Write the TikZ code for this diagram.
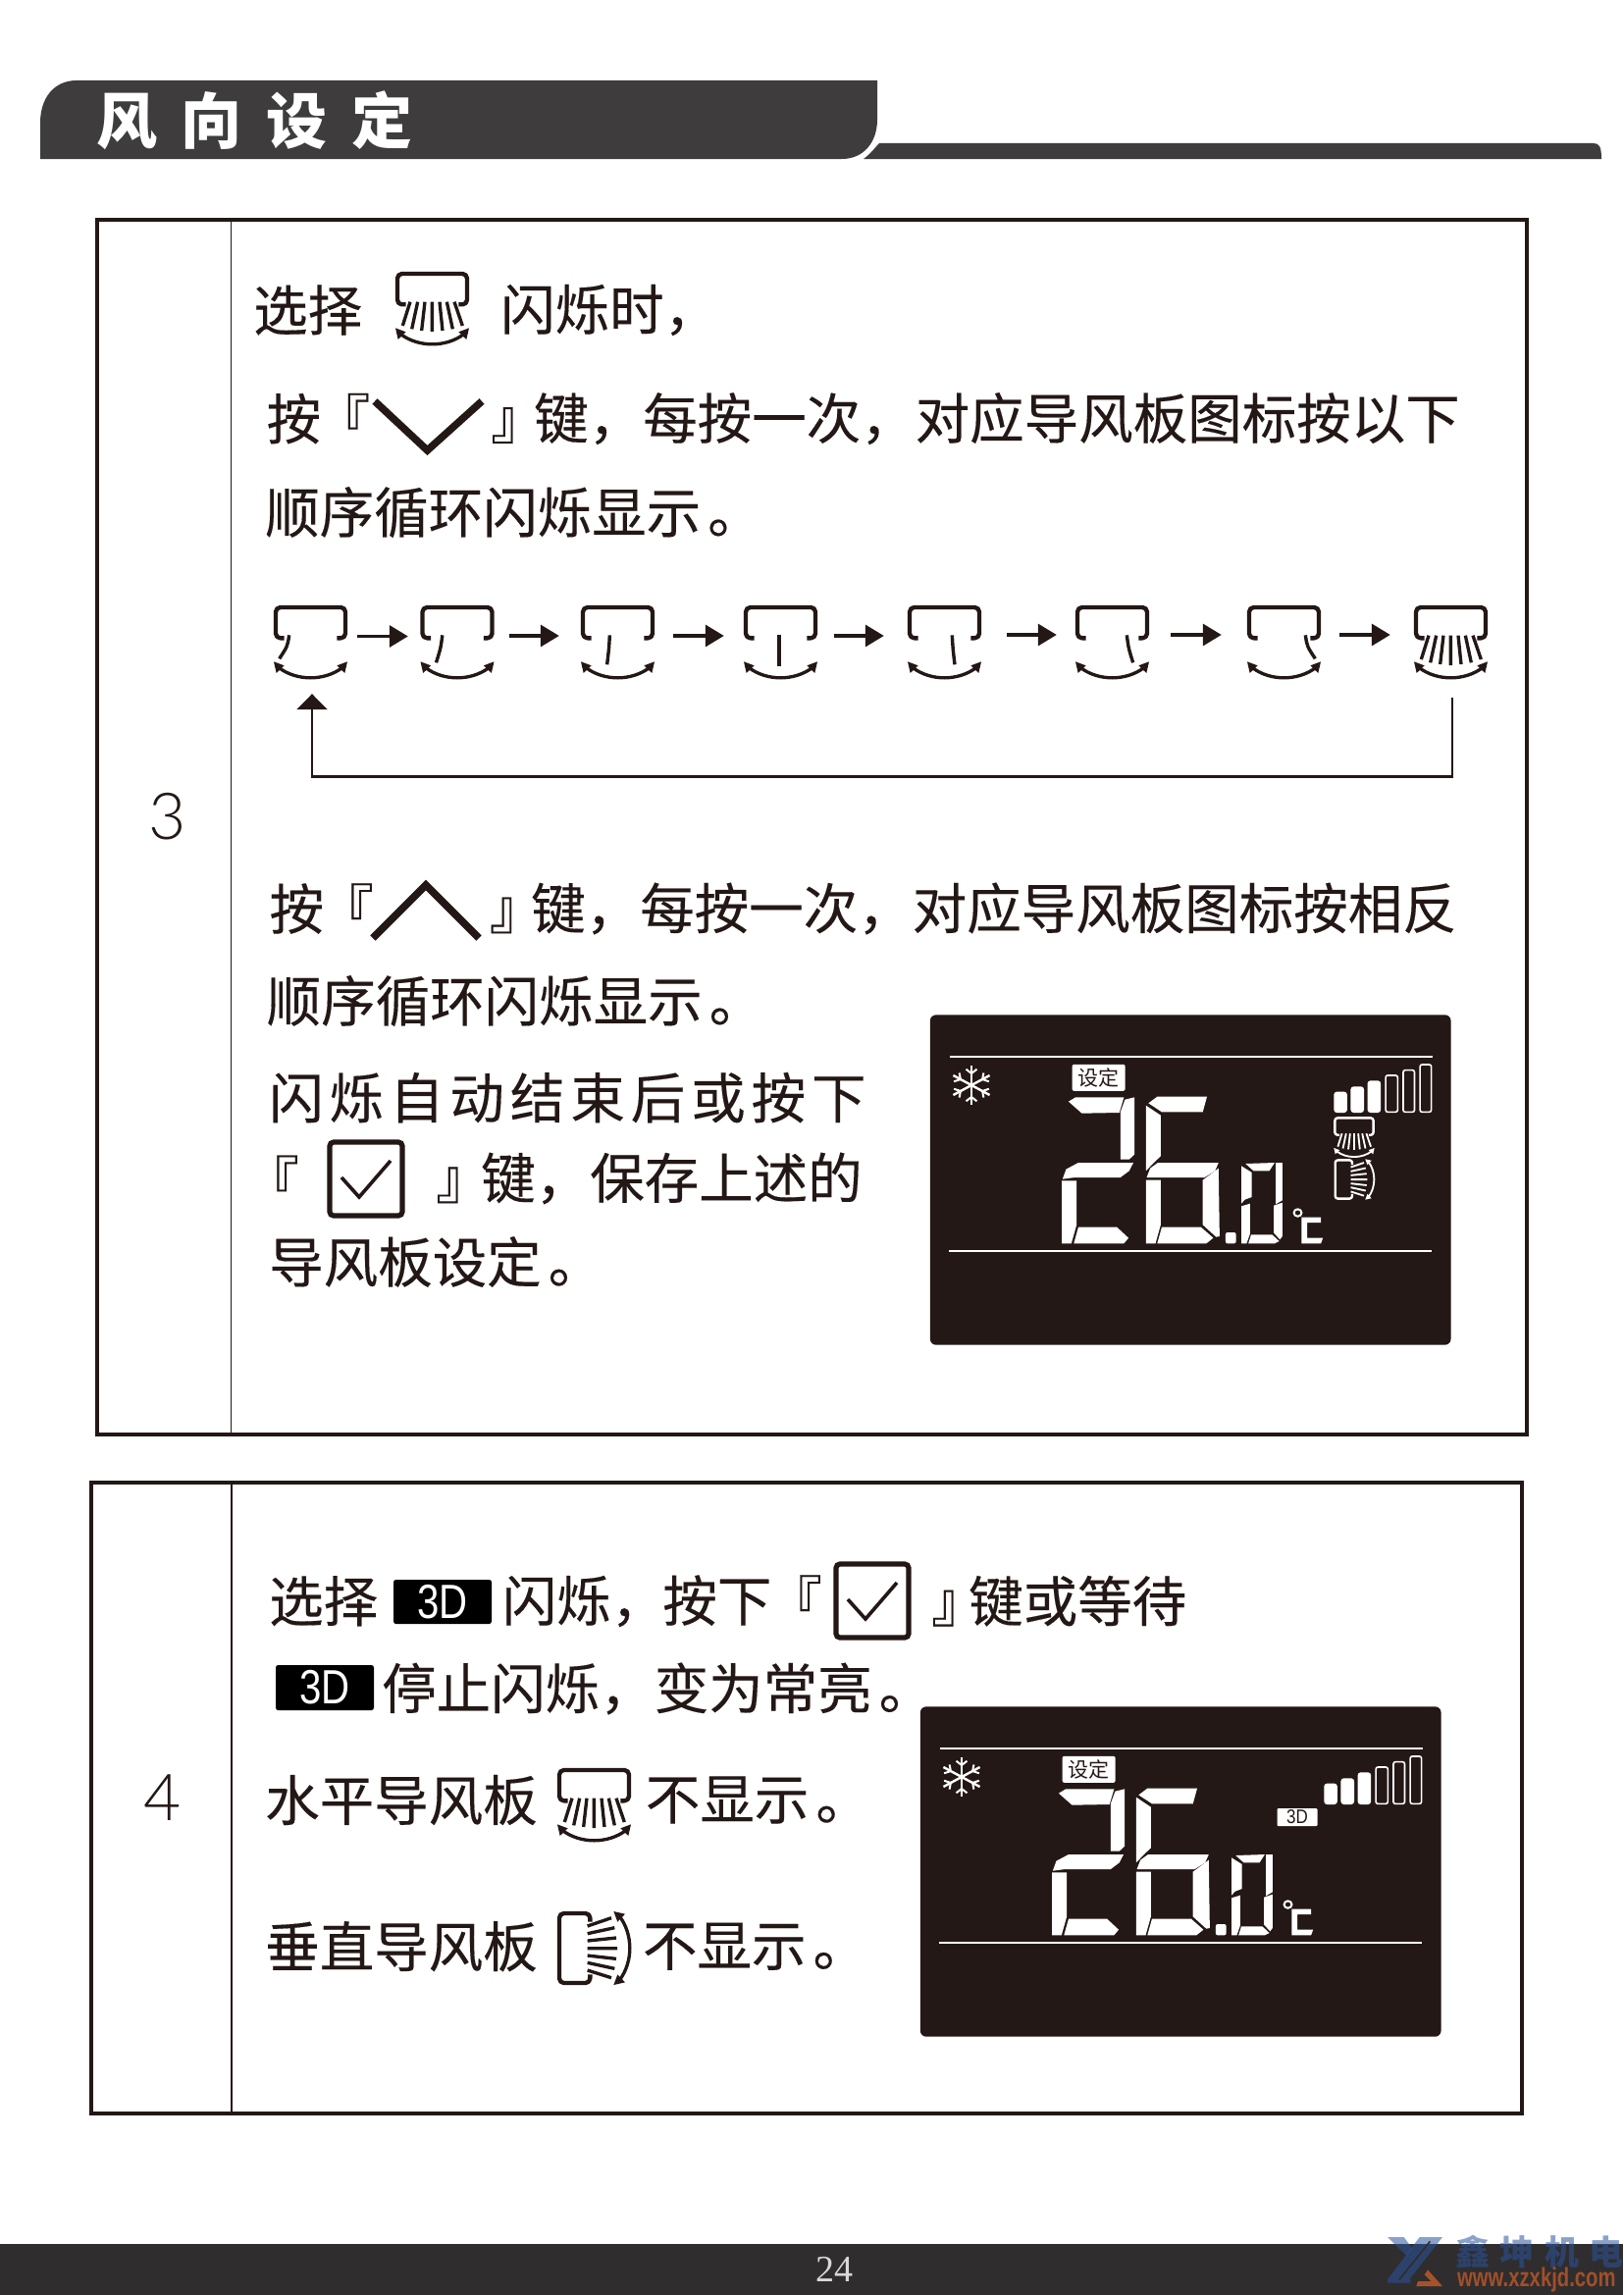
\documentclass[tikz,border=0pt]{standalone}
\usepackage{fontspec}
\usepackage{graphicx}
\setmainfont{Noto Sans CJK SC}[FakeBold=0.25]
\newfontfamily\plaincjk{Noto Sans CJK SC}
\newfontfamily\latinsans{Liberation Sans}
\newfontfamily\latinserif{Liberation Serif}
\newfontfamily\thinsans{Lato Light}
\newfontfamily\spacedcjk[LetterSpace=10.7,FakeBold=0.25]{Noto Sans CJK SC}
\newfontfamily\titlecjk[LetterSpace=40]{Noto Sans CJK SC}
\newfontfamily\wmcjk[LetterSpace=30]{Noto Sans CJK SC}
\definecolor{ink}{HTML}{231815}
\definecolor{hdr}{HTML}{3E3C3D}
\definecolor{foot}{HTML}{2F2D2E}
\definecolor{wmblue}{HTML}{2B559E}
\definecolor{wmorange}{HTML}{B5562A}
\usetikzlibrary{arrows.meta}
\tikzset{
  x=1pt,y=-1pt,
  txt/.style={anchor=west,inner sep=0pt,text=ink,font=\fontsize{55.5}{60}\selectfont},
  hframe/.style n args={3}{shift={(#1,#2)},x={(#3pt,0pt)},y={(0pt,-#3pt)}},
  vframe/.style n args={3}{shift={(#1,#2)},x={(0pt,#3pt)},y={(#3pt,0pt)}},
  seg/.style={fill=white,draw=none},
  flowarrow/.style 2 args={draw=ink,line width=3.4pt,-{Triangle[length=19pt,width=22pt]},shorten <=#1pt,shorten >=#2pt},
  backarrow/.style={draw=ink,line width=2.6pt,-{Triangle[length=16pt,width=31pt]}},
  anchorbox/.style={minimum size=75pt,inner sep=0pt,draw=none},
  panel/.style={draw=ink,line width=4pt,outer sep=0pt},
  rule/.style={draw=ink,line width=1.6pt},
  chev/.style={draw=ink,line width=7.5pt,line join=miter},
  blackd/.style={fill=black,draw=none,rounded corners=2.5pt,outer sep=0pt},
  bigd/.style={inner sep=0pt,text=white,font=\latinsans\fontsize{49}{50}\selectfont},
}
\newcommand\threed{\scalebox{.82}[1]{3D}}
\newcommand\cjkstop{\kern7pt 。}
% swing arrow and body, in a 225 x 225 frame; #1 = scale
\newcommand\ibody[1]{%
  \draw[line width=#1*13pt,line join=round,rounded corners=#1*14pt]
    (32,100) -- (6,100) -- (6,6) -- (219,6) -- (219,100) -- (193,100);
  \draw[line width=#1*10pt] (15,190) .. controls (70,232) and (155,232) .. (210,190);
  \fill (0,172) -- (8,207) -- (32,184) -- cycle;
  \fill (225,172) -- (217,207) -- (193,184) -- cycle;
}
\newcommand\ifan[1]{%
  \draw[line width=#1*10pt]
    (45,92) -- (22,165) (68,92) -- (50,175) (90,92) -- (80,180) (112,92) -- (112,183)
    (135,92) -- (144,180) (157,92) -- (175,175) (180,92) -- (205,165);
}
\newcommand\flapicon[4]{% name, left, top, louver
  \node[anchorbox] (#1) at (#2+37.5,#3+37.5) {};
  \begin{scope}[hframe={#2}{#3}{0.3333},ink]
    \ibody{0.3333}
    \draw[line width=3.4pt] #4;
  \end{scope}}
\newcommand\checkicon[3]{% name, left, top
  \node[minimum width=74pt,minimum height=75pt,inner sep=0pt,draw=ink,line width=5.2pt,rounded corners=4pt,anchor=north west,outer sep=0pt] (#1) at (#2,#3) {};
  \begin{scope}[shift={(#2,#3)}]
    \draw[ink,line width=3.6pt,line join=miter] (12,36) -- (30,56) -- (62,19);
  \end{scope}}
\newcommand\lcdbars{%
  \fill[seg,rounded corners=3pt] (1174,312) rectangle (1212,248);
  \fill[seg,rounded corners=3pt] (1222,312) rectangle (1260,232);
  \fill[seg,rounded corners=3pt] (1270,312) rectangle (1308,214);
  \draw[white,line width=1.6pt,rounded corners=2pt] (1322,310) rectangle (1356,198);
  \draw[white,line width=1.6pt,rounded corners=2pt] (1372,310) rectangle (1404,182);
  \draw[white,line width=1.6pt,rounded corners=2pt] (1420,310) rectangle (1452,165);
}
\newcommand\lcdbase[3]{% name, shift x, shift y
  \begin{scope}[shift={(#2,#3)}]
  \begin{scope}[shift={(940,1030)},x={(0.35714pt,0pt)},y={(0pt,-0.33333pt)}]
    \fill[ink,rounded corners=6pt] (22,13) rectangle (1508,1022);
    \draw[white,line width=2pt] (78,141) -- (1456,141) (76,735) -- (1452,735);
    % snowflake
    \foreach \a in {30,90,...,330}{
      \draw[white,line width=2.4pt] (140,228) -- ++(\a:60);
      \draw[white,line width=2pt] ({140+36*cos(\a)},{228+36*sin(\a)}) -- ++(\a+50:20);
      \draw[white,line width=2pt] ({140+36*cos(\a)},{228+36*sin(\a)}) -- ++(\a-50:20);
    }
    \node[fill=white,rounded corners=2pt,inner sep=0pt,minimum width=54pt,minimum height=27pt,text=ink,font=\plaincjk\fontsize{21}{22}\selectfont] (#1set) at (503,205) {设定};
    % digit 2
    \fill[seg] (417,278) -- (437,265) -- (575,265) -- (562,312) -- (455,314) -- cycle;
    \fill[seg] (565,455) -- (565,310) -- (578,272) -- (605,265) -- (605,440) -- (590,455) -- cycle;
    \fill[seg] (400,515) -- (410,485) -- (445,465) -- (602,465) -- (590,490) -- (565,510) -- (435,510) -- cycle;
    \fill[seg] (398,520) -- (440,520) -- (440,655) -- (425,712) -- (398,712) -- cycle;
    \fill[seg] (432,712) -- (445,662) -- (555,662) -- (588,695) -- (575,712) -- cycle;
    % digit 6
    \fill[seg] (645,283) -- (670,263) -- (812,263) -- (800,310) -- (683,310) -- cycle;
    \fill[seg] (638,290) -- (680,320) -- (680,445) -- (660,465) -- (638,490) -- cycle;
    \fill[seg] (640,510) -- (650,482) -- (672,465) -- (845,465) -- (835,490) -- (805,510) -- cycle;
    \fill[seg] (638,518) -- (680,518) -- (680,655) -- (665,712) -- (638,712) -- cycle;
    \fill[seg] (800,518) -- (845,482) -- (848,690) -- (838,692) -- (800,655) -- cycle;
    \fill[seg] (670,712) -- (683,662) -- (795,662) -- (830,695) -- (810,712) -- cycle;
    \fill[seg,rounded corners=2pt] (865,678) rectangle (895,712);
    % digit 0
    \fill[seg] (922,468) -- (1005,465) -- (990,490) -- (945,490) -- cycle;
    \fill[seg] (910,475) -- (940,495) -- (940,570) -- (920,578) -- (910,590) -- cycle;
    \fill[seg] (1008,465) -- (1027,465) -- (1027,580) -- (1008,592) -- cycle;
    \fill[seg] (910,598) -- (935,590) -- (935,682) -- (925,712) -- (910,712) -- cycle;
    \fill[seg] (1003,596) -- (1027,587) -- (1027,690) -- (1020,700) -- (1003,680) -- cycle;
    \fill[seg] (930,712) -- (938,685) -- (998,685) -- (1018,705) -- (1005,712) -- cycle;
    % degree C
    \draw[white,line width=2pt] (1071,618) ellipse (11 and 11);
    \fill[seg] (1082,712) -- (1082,632) -- (1137,632) -- (1137,648) -- (1098,648) -- (1098,695) -- (1143,695) -- (1137,712) -- cycle;
    \lcdbars
  \end{scope}
  \end{scope}}
\begin{document}
\begin{tikzpicture}
\useasboundingbox (0,0) rectangle (1654,2339);
\fill[white] (0,0) rectangle (1654,2339);

% header
\fill[hdr] (41,162) -- (41,125) .. controls (41,100) and (55,82) .. (78,82) -- (894,82) -- (894,122) .. controls (894,145) and (880,162) .. (858,162) -- cycle;
\fill[hdr] (880,162) .. controls (888,156) and (892,150) .. (896,146) -- (1624,146) .. controls (1630,146) and (1632,150) .. (1632,162) -- cycle;
\node[anchor=west,inner sep=0pt,text=white,font=\titlecjk\bfseries\fontsize{62}{64}\selectfont] (title) at (98,123) {风向设定};

% panels
\node[panel,minimum width=1457pt,minimum height=1238pt,anchor=north west,inner sep=0pt] (p3) at (98.5,224) {};
\node[panel,minimum width=1458pt,minimum height=643pt,anchor=north west,inner sep=0pt] (p4) at (93,1511) {};
\draw[rule] (235.6,224) -- (235.6,1462);
\draw[rule] (236,1511) -- (236,2154);
\node[inner sep=0pt,text=ink,font=\thinsans\fontsize{66}{70}\selectfont] (n3) at (171,832) {3};
\node[inner sep=0pt,text=ink,font=\thinsans\fontsize{66}{70}\selectfont] (n4) at (166,1832) {4};

% panel 3 text
\node[txt] (a1) at (258,316) {选择};
\begin{scope}[hframe={403}{277}{0.3333},ink]
 \ibody{0.3333}\ifan{0.3333}
\end{scope}
\node[txt] (a2) at (510,316) {闪烁时，};
\node[txt] (b1) at (271.5,426.6) {按\kern-5.5pt 『};
\coordinate (dl) at (382,409);\coordinate (dm) at (435.5,459);\coordinate (dr) at (491,409);
\draw[chev] (dl) -- (dm) -- (dr);
\node[txt] (b2) at (500,426.6) {』\kern-11.5pt 键，每按一次，对应导风板图标按以下};
\node[txt] (b3) at (270,522) {顺序循环闪烁显示\cjkstop};

\flapicon{v1}{279}{617}{(47,91) .. controls (42,125) .. (17,163)}
\flapicon{v2}{428.5}{617}{(67,91) .. controls (62,130) .. (48,175)}
\flapicon{v3}{592}{617}{(88,91) .. controls (86,130) .. (80,181)}
\flapicon{v4}{758}{617}{(108,91) -- (108,185)}
\flapicon{v5}{925}{617}{(136,91) .. controls (138,130) .. (144,181)}
\flapicon{v6}{1096}{617}{(157,91) .. controls (162,130) .. (176,175)}
\flapicon{v7}{1271}{617}{(178,91) .. controls (183,125) .. (208,163)}
\node[anchorbox] (v8) at (1478.5,654.5) {};
\begin{scope}[hframe={1441}{617}{0.3333},ink]
 \ibody{0.3333}\ifan{0.3333}
\end{scope}
\draw[flowarrow={10}{12.5}] ([yshift=6pt]v1.east) -- ([yshift=6pt]v2.west);
\draw[flowarrow={15.5}{22}] ([yshift=6.5pt]v2.east) -- ([yshift=6.5pt]v3.west);
\draw[flowarrow={19}{20}] ([yshift=6.5pt]v3.east) -- ([yshift=6.5pt]v4.west);
\draw[flowarrow={17}{24}] ([yshift=6.5pt]v4.east) -- ([yshift=6.5pt]v5.west);
\draw[flowarrow={26}{19}] ([yshift=7.5pt]v5.east) -- ([yshift=7.5pt]v6.west);
\draw[flowarrow={22}{26}] ([yshift=7.5pt]v6.east) -- ([yshift=7.5pt]v7.west);
\draw[flowarrow={19}{24}] ([yshift=7.5pt]v7.east) -- ([yshift=7.5pt]v8.west);
\coordinate (fb) at (900,791.7);
\draw[backarrow] ([xshift=1.5pt,yshift=-19pt]v8.south) -- ([xshift=1.5pt]v8.south |- fb) -- ([xshift=1.5pt]v1.south |- fb) -- ([xshift=1.5pt,yshift=-15pt]v1.south);

\node[txt] (c1) at (274.4,926) {按\kern-4.9pt 『};
\coordinate (ul) at (380,956);\coordinate (um) at (434,902);\coordinate (ur) at (488,956);
\draw[chev] (ul) -- (um) -- (ur);
\node[txt] (c2) at (498.7,926) {』\kern-13.2pt 键，每按一次，对应导风板图标按相反};
\node[txt] (c3) at (271.5,1020) {顺序循环闪烁显示\cjkstop};
\node[txt,font=\spacedcjk\fontsize{55.5}{60}\selectfont] (d1) at (274,1118.6) {闪烁自动结束后或按下};
\node[txt] (d2) at (249,1201) {『};
\checkicon{chk1}{336}{1164}
\node[txt] (d3) at (444,1201) {』\kern-9.5pt 键，保存上述的};
\node[txt] (d4) at (274,1286) {导风板设定\cjkstop};
\lcdbase{lcdA}{0}{0}
\begin{scope}[hframe={1359.3}{1138.3}{0.184},white]
 \ibody{0.184}\ifan{0.184}
\end{scope}
\begin{scope}[vframe={1359.6}{1222.7}{0.184},white]
 \ibody{0.184}\ifan{0.184}
\end{scope}

% panel 4 text
\node[txt] (e1) at (274,1631.7) {选择};
\node[blackd,minimum width=100pt,minimum height=45pt,inner sep=0pt,anchor=north west] (e2box) at (401,1610) {};
\node[bigd] (e2) at (e2box.center) {\threed};
\node[txt] (e3) at (511.6,1631.7) {闪烁，\kern-3pt 按下\kern-4.1pt 『};
\checkicon{chk2}{852}{1594}
\node[txt] (e4) at (949,1631.7) {』\kern-17.5pt 键或等待};
\node[blackd,minimum width=100pt,minimum height=46pt,inner sep=0pt,anchor=north west] (f1box) at (281,1697) {};
\node[bigd] (f1) at (f1box.center) {\threed};
\node[txt] (f2) at (389,1721) {停止闪烁，变为常亮\cjkstop};
\node[txt] (g1) at (270,1834.5) {水平导风板};
\begin{scope}[hframe={568}{1802}{0.3333},ink]
 \ibody{0.3333}\ifan{0.3333}
\end{scope}
\node[txt] (g2) at (657.7,1834.5) {不显示\cjkstop};
\node[txt] (h1) at (270,1983.7) {垂直导风板};
\begin{scope}[vframe={568}{2023}{0.3333},ink]
 \ibody{0.3333}\ifan{0.3333}
\end{scope}
\node[txt] (h2) at (654.8,1983.7) {不显示\cjkstop};
\lcdbase{lcdB}{-10}{705}
\node[fill=white,rounded corners=1pt,inner sep=0pt,minimum width=41pt,minimum height=18pt,outer sep=0pt,text=ink,font=\latinsans\fontsize{20}{21}\selectfont] (lcd3d) at (1322,1852) {\scalebox{.85}[1]{3D}};

% footer
\fill[foot] (0,2287) rectangle (1654,2339);
\node[inner sep=0pt,text=white!85!black,font=\latinserif\fontsize{38}{40}\selectfont] (pg) at (850,2313) {24};
% watermark
\begin{scope}[shift={(1400,2275)},x={(0.3333pt,0pt)},y={(0pt,-0.3333pt)}]
 \fill[wmblue,opacity=.55] (140,15) -- (210,15) -- (112,140) -- (112,155) -- (42,155) -- (42,145) -- cycle;
 \fill[wmblue,opacity=.55] (42,15) -- (92,15) -- (118,50) -- (100,72) -- cycle;
 \draw[foot,line width=1.6pt] (172,28) -- (78,145);
 \fill[wmorange,opacity=.9] (130,165) -- (210,165) -- (165,115) -- (155,130) -- (175,150) -- (135,150) -- cycle;
\end{scope}
\node[anchor=west,inner sep=0pt,text=wmblue,opacity=.55,font=\wmcjk\bfseries\fontsize{35}{37}\selectfont] (wm1) at (1483,2295) {鑫坤机电};
\node[anchor=west,inner sep=0pt,text=wmorange,opacity=.85,font=\latinsans\bfseries\fontsize{27}{28}\selectfont] (wm2) at (1485,2323) {\scalebox{.75}[1]{www.xzxkjd.com}};
\end{tikzpicture}
\end{document}
